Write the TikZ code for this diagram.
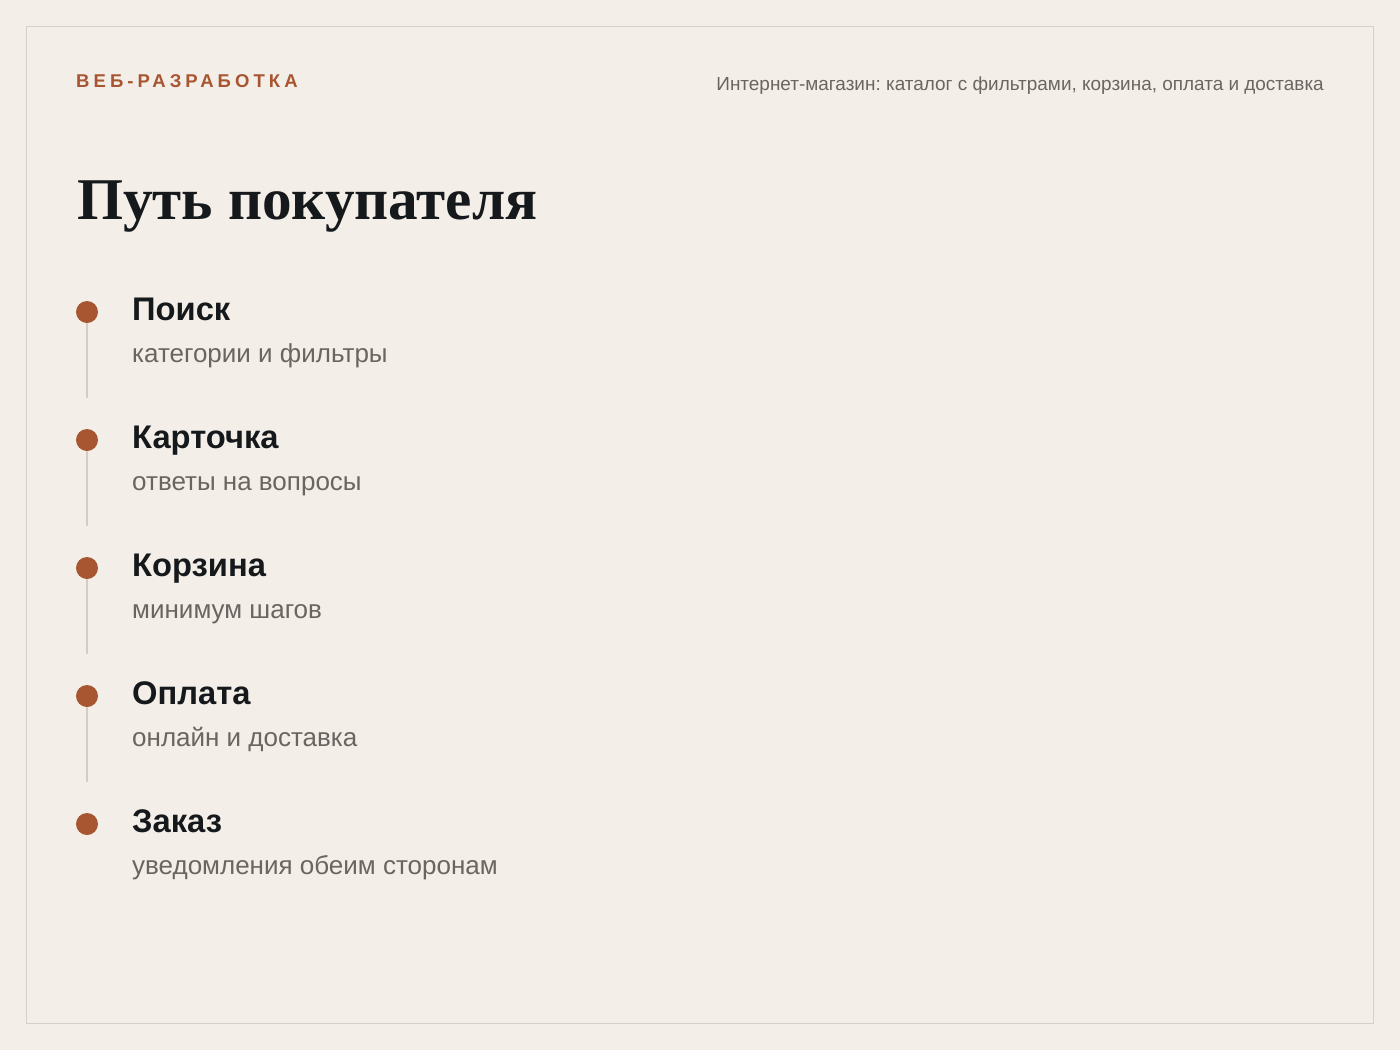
\documentclass[tikz,border=0pt]{standalone}
\usepackage{fontspec}
\usetikzlibrary{positioning}
\setmainfont{Liberation Sans}
\newfontfamily\titlefont{Liberation Serif}
\newfontfamily\kickerfont[LetterSpace=22]{Liberation Sans}
\definecolor{paper}{HTML}{F3EEE8}
\definecolor{frameline}{HTML}{D5D0CA}
\definecolor{rust}{HTML}{A85531}
\definecolor{ink}{HTML}{16191B}
\definecolor{muted}{HTML}{6B6561}
\definecolor{rail}{HTML}{D2CDC7}
\frenchspacing

\begin{document}
\begin{tikzpicture}[
    x=1pt, y=-1pt,
    kicker/.style={anchor=base west, inner sep=0pt, text=rust, font=\kickerfont\bfseries\fontsize{18.5}{18.5}\selectfont},
    subtitle/.style={anchor=base east, inner sep=0pt, text=muted, font=\fontsize{18.95}{18.95}\selectfont},
    heading/.style={anchor=base west, inner sep=0pt, text=ink, font=\titlefont\bfseries\fontsize{59.2}{59.2}\selectfont},
    dot/.style={circle, fill=rust, minimum size=22pt, inner sep=0pt},
    stepname/.style={anchor=base west, inner sep=0pt, text=ink, font=\bfseries\fontsize{32.7}{32.7}\selectfont},
    stepnote/.style={anchor=base west, inner sep=0pt, text=muted, font=\fontsize{26}{26}\selectfont},
    line/.style={draw=rail, line width=2pt}
]

% Page
\fill[paper] (0,0) rectangle (1400,1050);
\useasboundingbox (0,0) rectangle (1400,1050);
\draw[frameline, line width=1pt] (26.5,26.5) rectangle (1373.5,1023.5);

% Header
\node[kicker] (kicker) at (76,87) {ВЕБ-РАЗРАБОТКА};
\node[subtitle] (subtitle) at (1324,90) {Интернет-магазин: каталог с фильтрами, корзина, оплата и доставка};
\node[heading] (title) at (77,219) {Путь покупателя};

% Steps
\node[dot] (dot1) at (87,312) {};
\node[dot] (dot2) at (87,440) {};
\node[dot] (dot3) at (87,568) {};
\node[dot] (dot4) at (87,696) {};
\node[dot] (dot5) at (87,824) {};

\node[stepname] (step1) at (132,320) {Поиск};
\node[stepname] (step2) at (132,448) {Карточка};
\node[stepname] (step3) at (132,576) {Корзина};
\node[stepname] (step4) at (132,704) {Оплата};
\node[stepname] (step5) at (132,832) {Заказ};

\node[stepnote] (note1) at (132,362) {категории и фильтры};
\node[stepnote] (note2) at (132,490) {ответы на вопросы};
\node[stepnote] (note3) at (132,618) {минимум шагов};
\node[stepnote] (note4) at (132,746) {онлайн и доставка};
\node[stepnote] (note5) at (132,874) {уведомления обеим сторонам};

% Rails
\coordinate[above=31pt of dot2.north] (end1);
\coordinate[above=31pt of dot3.north] (end2);
\coordinate[above=31pt of dot4.north] (end3);
\coordinate[above=31pt of dot5.north] (end4);
\draw[line] (dot1.south) -- (end1);
\draw[line] (dot2.south) -- (end2);
\draw[line] (dot3.south) -- (end3);
\draw[line] (dot4.south) -- (end4);

\end{tikzpicture}
\end{document}
